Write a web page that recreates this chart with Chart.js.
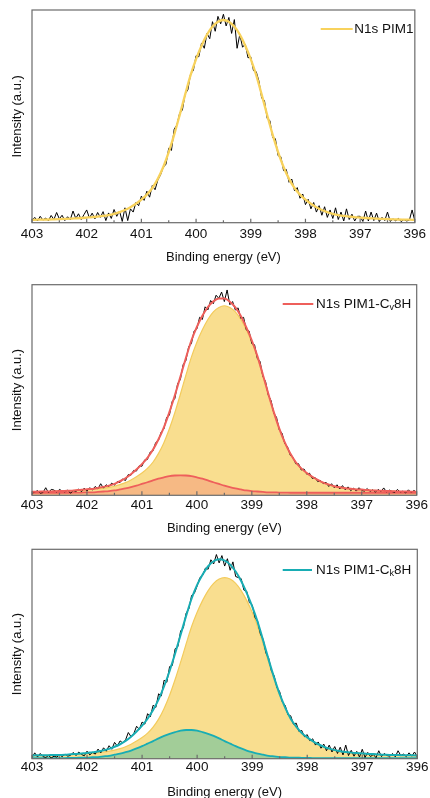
<!DOCTYPE html>
<html>
<head>
<meta charset="utf-8">
<script src="https://cdn.jsdelivr.net/npm/chart.js@4.4.1/dist/chart.umd.min.js"></script>
<style>
  html, body { margin: 0; padding: 0; background: #fff; overflow: hidden; }
  canvas { position: absolute; left: 0; }
</style>
</head>
<body>
<canvas id="c1" width="430" height="270" style="top:0px"></canvas>
<canvas id="c2" width="430" height="270" style="top:270px"></canvas>
<canvas id="c3" width="430" height="270" style="top:540px"></canvas>
<script>
// x grid: raw spectra every 0.05 eV, fitted curves every 0.1 eV, both from 403 down to 396
const X_MIN = 396, X_MAX = 403;
const RAW_X0 = 403, RAW_DX = 0.05;
const FIT_X0 = 403, FIT_DX = 0.1;
const X_TICKS = [403, 402, 401, 400, 399, 398, 397, 396];

// panel 1: N1s PIM1
const RAW1 = [
  1.0, 2.5, 0.8, 3.0, 1.2, 2.2, 0.9, 3.4, 1.5, 4.8,
  1.8, 3.5, 1.0, 2.8, 1.4, 5.5, 2.0, 4.2, 1.5, 3.8,
  6.0, 2.2, 4.5, 1.8, 4.8, 2.5, 5.2, 1.0, 4.6, 2.0,
  6.2, 3.0, 5.5, 0.6, 7.0, 1.0, 6.5, 5.0, 9.5, 8.0,
  12.5, 10.5, 14.8, 12.0, 17.5, 15.5, 20.0, 22.5, 26.0, 27.5,
  35.0, 34.0, 44.0, 46.0, 51.5, 53.0, 60.5, 62.5, 70.0, 71.5,
  78.5, 78.0, 84.5, 82.0, 89.0, 86.5, 94.5, 90.0, 97.0, 93.5,
  98.0, 92.5, 96.5, 89.0, 95.5, 82.0, 88.5, 82.5, 84.0, 77.5,
  78.0, 71.5, 71.0, 66.5, 58.5, 57.5, 49.0, 48.0, 40.0, 39.5,
  31.5, 31.0, 24.5, 25.0, 19.0, 20.5, 15.0, 16.5, 11.5, 13.5,
  8.5, 11.0, 6.5, 9.5, 5.0, 8.0, 3.5, 7.5, 2.5, 6.0,
  2.0, 7.0, 1.5, 5.0, 0.8, 6.5, 1.5, 4.0, 0.8, 3.0,
  3.0, 0.6, 5.5, 0.8, 5.0, 1.0, 4.5, 0.5, 2.5, 1.0,
  5.0, 0.6, 1.8, 0.9, 2.0, 0.5, 1.5, 0.8, 1.2, 6.0,
  0.9
];
const FIT1 = [
  1.35, 1.4, 1.45, 1.5, 1.6, 1.7, 1.8, 1.9, 2.05, 2.2,
  2.4, 2.6, 2.9, 3.2, 3.6, 4.2, 5.0, 6.0, 7.3, 8.9,
  10.8, 13.2, 16.3, 20.6, 26.2, 33.2, 41.4, 50.6, 60.2, 69.4,
  76.9, 83.2, 88.4, 92.2, 94.5, 95.3, 94.5, 92.2, 88.4, 83.2,
  76.9, 69.4, 60.2, 50.6, 41.4, 33.2, 26.2, 20.6, 16.3, 13.2,
  10.8, 8.9, 7.3, 6.0, 5.0, 4.2, 3.6, 3.2, 2.9, 2.6,
  2.4, 2.2, 2.05, 1.9, 1.8, 1.7, 1.6, 1.5, 1.45, 1.4,
  1.35
];

// panel 2: N1s PIM1-Cv8H
const RAW2 = [
  1.0, 1.5, 2.2, 1.0, 1.3, 3.6, 1.2, 2.8, 2.5, 1.5,
  2.8, 2.0, 1.6, 2.5, 1.0, 2.2, 1.8, 3.0, 1.7, 3.4,
  2.0, 3.6, 2.5, 4.2, 3.0, 5.5, 3.4, 5.0, 4.2, 5.8,
  4.8, 6.5, 6.0, 7.8, 7.0, 9.8, 9.5, 11.8, 11.5, 14.0,
  13.8, 16.8, 17.0, 20.5, 21.0, 25.0, 26.0, 30.0, 31.5, 37.0,
  38.0, 44.5, 46.0, 53.0, 55.0, 62.0, 64.0, 70.5, 72.0, 78.0,
  79.0, 84.5, 83.5, 89.5, 88.0, 92.5, 91.0, 95.0, 93.5, 96.5,
  92.0, 97.5, 90.5, 92.0, 88.0, 89.0, 84.0, 84.5, 78.5, 78.0,
  72.0, 71.5, 65.0, 63.5, 56.5, 54.0, 47.5, 45.0, 39.0, 37.0,
  31.0, 29.5, 24.5, 23.0, 19.0, 18.0, 15.0, 15.0, 12.0, 12.5,
  10.0, 10.5, 8.0, 8.5, 6.5, 7.0, 5.5, 6.2, 4.2, 5.5,
  3.6, 5.0, 3.0, 4.6, 2.6, 4.0, 2.2, 3.4, 2.0, 3.6,
  2.3, 2.0, 3.2, 1.8, 2.6, 1.5, 2.8, 1.7, 3.5, 1.6,
  2.5, 1.8, 1.3, 2.8, 1.5, 2.0, 1.1, 2.6, 1.2, 2.3,
  1.4
];
const MAIN2 = [
  1.7, 1.7, 1.8, 1.8, 1.9, 2.0, 2.1, 2.2, 2.3, 2.5,
  2.7, 2.8, 3.1, 3.4, 3.8, 4.3, 5.1, 6.0, 7.3, 8.8,
  10.6, 12.8, 15.7, 19.8, 25.0, 31.6, 39.3, 48.0, 57.0, 65.6,
  72.7, 78.6, 83.5, 87.1, 89.2, 90.0, 89.2, 87.1, 83.5, 78.6,
  72.7, 65.6, 57.0, 48.0, 39.3, 31.6, 25.0, 19.8, 15.7, 12.8,
  10.6, 8.8, 7.3, 6.0, 5.1, 4.3, 3.8, 3.4, 3.1, 2.8,
  2.7, 2.5, 2.3, 2.2, 2.1, 2.0, 1.9, 1.8, 1.8, 1.7,
  1.7
];
const SMALL2 = [
  1.2, 1.2, 1.2, 1.2, 1.2, 1.2, 1.2, 1.2, 1.3, 1.3,
  1.4, 1.4, 1.6, 1.8, 2.0, 2.3, 2.8, 3.3, 3.9, 4.6,
  5.4, 6.2, 7.1, 7.9, 8.5, 9.1, 9.4, 9.5, 9.4, 9.1,
  8.5, 7.9, 7.1, 6.2, 5.4, 4.6, 3.9, 3.3, 2.8, 2.3,
  2.0, 1.8, 1.6, 1.4, 1.4, 1.3, 1.3, 1.2, 1.2, 1.2,
  1.2, 1.2, 1.2, 1.2, 1.2, 1.2, 1.2, 1.2, 1.2, 1.2,
  1.2, 1.2, 1.2, 1.2, 1.2, 1.2, 1.2, 1.2, 1.2, 1.2,
  1.2
];
const ENV2 = [
  1.7, 1.7, 1.8, 1.8, 1.9, 2.0, 2.1, 2.2, 2.4, 2.6,
  2.9, 3.0, 3.5, 4.0, 4.6, 5.4, 6.7, 8.1, 10.0, 12.2,
  14.8, 17.8, 21.6, 26.5, 32.3, 39.5, 47.5, 56.3, 65.2, 73.5,
  80.0, 85.3, 89.4, 92.1, 93.4, 93.4, 91.9, 89.2, 85.1, 79.7,
  73.5, 66.2, 57.4, 48.2, 39.5, 31.7, 25.1, 19.8, 15.7, 12.8,
  10.6, 8.8, 7.3, 6.0, 5.1, 4.3, 3.8, 3.4, 3.1, 2.8,
  2.7, 2.5, 2.3, 2.2, 2.1, 2.0, 1.9, 1.8, 1.8, 1.7,
  1.7
];

// panel 3: N1s PIM1-Ck8H
const RAW3 = [
  0.5, 2.8, 0.8, 2.5, 1.0, 0.6, 1.5, 0.4, 1.2, 0.8,
  1.8, 1.0, 2.2, 1.2, 1.6, 3.0, 1.5, 3.2, 2.0, 1.4,
  3.6, 1.8, 3.0, 2.2, 4.6, 2.8, 5.2, 3.6, 6.2, 4.5,
  7.8, 6.0, 8.5, 7.5, 9.0, 12.5, 10.5, 12.0, 15.5, 14.0,
  17.5, 16.5, 21.5, 20.0, 25.5, 24.5, 31.0, 30.0, 37.5, 36.5,
  44.0, 44.5, 52.5, 53.5, 61.0, 62.5, 69.5, 71.5, 78.0, 79.0,
  82.5, 86.5, 87.5, 91.0, 90.5, 95.0, 93.0, 97.5, 93.5, 97.0,
  92.0, 95.5, 90.0, 94.0, 87.0, 86.5, 86.0, 80.5, 80.0, 74.5,
  73.5, 67.5, 65.5, 59.5, 57.0, 50.5, 48.0, 42.0, 39.5, 34.0,
  32.0, 27.0, 25.5, 21.0, 20.5, 16.5, 17.0, 13.0, 13.5, 10.5,
  11.5, 8.5, 9.5, 6.5, 8.0, 5.0, 7.0, 3.8, 6.5, 3.2,
  5.8, 2.5, 5.5, 1.8, 6.5, 1.5, 4.0, 1.2, 3.5, 0.8,
  4.5, 0.6, 3.0, 1.0, 2.0, 0.5, 3.8, 1.0, 2.5, 1.5,
  1.2, 2.5, 0.9, 3.8, 1.5, 2.2, 1.0, 2.8, 1.2, 3.2,
  0.8
];
const MAIN3 = [
  1.5, 1.6, 1.6, 1.7, 1.8, 1.8, 1.9, 2.0, 2.2, 2.3,
  2.5, 2.7, 2.9, 3.2, 3.6, 4.1, 4.8, 5.7, 6.9, 8.4,
  10.1, 12.2, 15.1, 18.9, 24.0, 30.3, 37.8, 46.1, 54.8, 63.1,
  69.9, 75.6, 80.3, 83.7, 85.8, 86.5, 85.8, 83.7, 80.3, 75.6,
  69.9, 63.1, 54.8, 46.1, 37.8, 30.3, 24.0, 18.9, 15.1, 12.2,
  10.1, 8.4, 6.9, 5.7, 4.8, 4.1, 3.6, 3.2, 2.9, 2.7,
  2.5, 2.3, 2.2, 2.0, 1.9, 1.8, 1.8, 1.7, 1.6, 1.6,
  1.5
];
const SMALL3 = [
  0.3, 0.3, 0.3, 0.3, 0.3, 0.3, 0.3, 0.4, 0.4, 0.5,
  0.5, 0.7, 0.8, 1.1, 1.4, 1.9, 2.4, 3.1, 3.9, 4.9,
  6.0, 7.2, 8.4, 9.7, 10.9, 11.9, 12.7, 13.4, 13.7, 13.7,
  13.4, 12.7, 11.9, 10.9, 9.7, 8.4, 7.2, 6.0, 4.9, 3.9,
  3.1, 2.4, 1.9, 1.4, 1.1, 0.8, 0.7, 0.5, 0.5, 0.4,
  0.4, 0.3, 0.3, 0.3, 0.3, 0.3, 0.3, 0.3, 0.3, 0.3,
  0.3, 0.3, 0.3, 0.3, 0.3, 0.3, 0.3, 0.3, 0.3, 0.3,
  0.3
];
const ENV3 = [
  1.5, 1.6, 1.6, 1.7, 1.8, 1.8, 1.9, 2.1, 2.3, 2.5,
  2.7, 3.1, 3.4, 4.0, 4.7, 5.7, 6.9, 8.5, 10.5, 13.0,
  15.8, 19.1, 23.2, 28.3, 34.6, 41.9, 50.2, 59.2, 68.2, 76.5,
  83.0, 88.0, 91.9, 94.3, 95.2, 94.6, 92.7, 89.4, 84.9, 79.2,
  72.7, 65.2, 56.4, 47.2, 38.6, 30.8, 24.4, 19.1, 15.3, 12.3,
  10.2, 8.4, 6.9, 5.7, 4.8, 4.1, 3.6, 3.2, 2.9, 2.7,
  2.5, 2.3, 2.2, 2.0, 1.9, 1.8, 1.8, 1.7, 1.6, 1.6,
  1.5
];

const FONT = '"Liberation Sans", Arial, sans-serif';
const TEXT = '#111111';
const FRAME = '#6b6b6b';
const YELLOW_LINE = '#f8d25c';
const YELLOW_FILL = '#f9de8f';
const YELLOW_EDGE = '#f3cb5c';
const RED = '#ee5f5b';
const ORANGE_FILL = '#f6b984';
const TEAL = '#18adb4';
const GREEN_FILL = '#a2cd98';

Chart.defaults.font.family = FONT;

const onGrid = (vals, x0, dx) => vals.map((y, i) => ({ x: +(x0 - i * dx).toFixed(2), y }));
const raw = vals => onGrid(vals, RAW_X0, RAW_DX);
const fit = vals => onGrid(vals, FIT_X0, FIT_DX);

// plot frame plus inward ticks (major every 1 eV, minor every 0.5 eV)
const frameTicks = {
  id: 'frameTicks',
  afterDatasetsDraw(chart) {
    const { ctx, chartArea: a, scales: { x } } = chart;
    ctx.save();
    ctx.strokeStyle = FRAME;
    ctx.lineWidth = 1.2;
    ctx.strokeRect(a.left, a.top, a.right - a.left, a.bottom - a.top);
    ctx.beginPath();
    X_TICKS.forEach(v => {
      const px = x.getPixelForValue(v);
      ctx.moveTo(px, a.bottom);
      ctx.lineTo(px, a.bottom - 4);
      if (v > X_MIN) {
        const mx = x.getPixelForValue(v - 0.5);
        ctx.moveTo(mx, a.bottom);
        ctx.lineTo(mx, a.bottom - 2.5);
      }
    });
    ctx.stroke();
    ctx.restore();
  }
};

// legend line + label with subscript
const seriesKey = {
  id: 'seriesKey',
  afterDraw(chart, args, o) {
    const ctx = chart.ctx;
    ctx.save();
    ctx.strokeStyle = o.color;
    ctx.lineWidth = 2;
    ctx.beginPath();
    ctx.moveTo(o.x0, o.y);
    ctx.lineTo(o.x1, o.y);
    ctx.stroke();
    ctx.fillStyle = TEXT;
    ctx.textBaseline = 'middle';
    let x = o.tx;
    o.parts.forEach(p => {
      ctx.font = (p.sub ? '9px ' : '13.5px ') + FONT;
      ctx.fillText(p.t, x, p.sub ? o.y + 4 : o.y);
      x += ctx.measureText(p.t).width;
    });
    ctx.restore();
  }
};

function makeChart(id, datasets, key, box) {
  return new Chart(document.getElementById(id), {
    type: 'line',
    data: { datasets },
    options: {
      responsive: false,
      animation: false,
      events: [],
      layout: { padding: { top: box.top, right: box.right, left: 0, bottom: 0 } },
      elements: { point: { radius: 0 } },
      scales: {
        x: {
          type: 'linear', reverse: true, min: X_MIN, max: X_MAX,
          grid: { display: false, drawTicks: false }, border: { display: false },
          ticks: { stepSize: 1, padding: box.tickPad, color: TEXT, font: { size: 13.5 }, maxRotation: 0, autoSkip: false },
          title: { display: true, text: 'Binding energy (eV)', color: TEXT, font: { size: 13 }, padding: { top: 0, bottom: box.titlePad } },
          afterFit: s => { s.height = box.xh; }
        },
        y: {
          min: 0, max: 100,
          grid: { display: false, drawTicks: false }, border: { display: false },
          ticks: { display: false },
          title: { display: true, text: 'Intensity (a.u.)', color: TEXT, font: { size: 13 }, padding: { top: 9.2, bottom: 0 } },
          afterFit: s => { s.width = 32; }
        }
      },
      plugins: { legend: { display: false }, tooltip: { enabled: false }, seriesKey: key }
    },
    plugins: [frameTicks, seriesKey]
  });
}

makeChart('c1', [
  { label: 'N1s PIM1', data: fit(FIT1), borderColor: YELLOW_LINE, borderWidth: 2.3, cubicInterpolationMode: 'monotone', order: 0 },
  { label: 'raw', data: raw(RAW1), borderColor: '#000', borderWidth: 1, tension: 0, order: 1 }
], { color: YELLOW_LINE, x0: 320.7, x1: 352.7, y: 29, tx: 354.3, parts: [{ t: 'N1s PIM1' }] },
   { top: 10, right: 10.7, xh: 47.3, tickPad: 3.9, titlePad: 5.2 });

makeChart('c2', [
  { label: 'N1s PIM1-Cv8H', data: fit(ENV2), borderColor: RED, borderWidth: 2, cubicInterpolationMode: 'monotone', order: 0 },
  { label: 'raw', data: raw(RAW2), borderColor: '#000', borderWidth: 1, tension: 0, order: 1 },
  { label: 'minor', data: fit(SMALL2), borderColor: RED, borderWidth: 1.8, backgroundColor: ORANGE_FILL, fill: 'origin', cubicInterpolationMode: 'monotone', order: 2 },
  { label: 'main', data: fit(MAIN2), borderColor: YELLOW_EDGE, borderWidth: 1.2, backgroundColor: YELLOW_FILL, fill: 'origin', cubicInterpolationMode: 'monotone', order: 3 }
], { color: RED, x0: 282.7, x1: 313.3, y: 34, tx: 316, parts: [{ t: 'N1s PIM1-C' }, { t: 'v', sub: true }, { t: '8H' }] },
   { top: 14.7, right: 13.3, xh: 44.7, tickPad: 1.9, titlePad: 3.5 });

makeChart('c3', [
  { label: 'N1s PIM1-Ck8H', data: fit(ENV3), borderColor: TEAL, borderWidth: 2, cubicInterpolationMode: 'monotone', order: 0 },
  { label: 'raw', data: raw(RAW3), borderColor: '#000', borderWidth: 1, tension: 0, order: 1 },
  { label: 'minor', data: fit(SMALL3), borderColor: TEAL, borderWidth: 1.8, backgroundColor: GREEN_FILL, fill: 'origin', cubicInterpolationMode: 'monotone', order: 2 },
  { label: 'main', data: fit(MAIN3), borderColor: YELLOW_EDGE, borderWidth: 1.2, backgroundColor: YELLOW_FILL, fill: 'origin', cubicInterpolationMode: 'monotone', order: 3 }
], { color: TEAL, x0: 282.7, x1: 312, y: 30, tx: 316, parts: [{ t: 'N1s PIM1-C' }, { t: 'k', sub: true }, { t: '8H' }] },
   { top: 9.3, right: 12.7, xh: 51.3, tickPad: 0.7, titlePad: 9.9 });
</script>
</body>
</html>
